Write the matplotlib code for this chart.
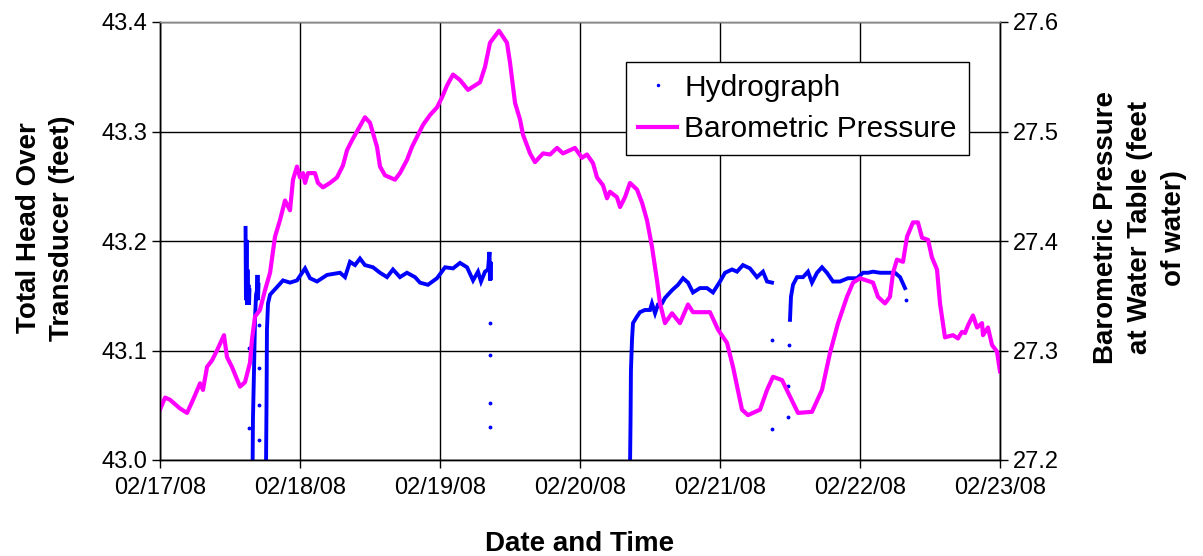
import numpy as np
import matplotlib
matplotlib.use('Agg')
import matplotlib.pyplot as plt
import matplotlib.dates as mdates
from matplotlib.lines import Line2D

plt.rcParams['font.family'] = ['Liberation Sans', 'DejaVu Sans']

# time axis: hours after 02/17/08 00:00
start = np.datetime64('2008-02-17T00:00')

# Barometric pressure (feet of water, right axis)
press_hours = [0, 0.86, 1.71, 3.43, 4.63, 5.66, 6.86, 7.37, 8.06, 8.91, 9.77, 10.97,
               11.49, 12.34, 13.71, 14.57, 15.43, 15.77, 16.29, 17.14, 18.0, 18.86,
               19.71, 20.57, 21.43, 22.29, 22.8, 23.49, 24.0, 24.51, 24.86, 25.37,
               26.57, 27.09, 27.94, 29.14, 30.34, 31.37, 32.06, 32.91, 33.77, 35.14,
               36.0, 37.2, 37.71, 38.57, 40.29, 41.14, 42.34, 43.2, 44.23, 45.09,
               46.29, 47.49, 48.34, 49.2, 50.23, 51.43, 52.8, 54.86, 55.71, 56.57,
               58.11, 59.49, 60.0, 60.86, 61.71, 62.23, 63.43, 64.29, 65.66, 66.86,
               68.06, 69.09, 71.14, 72.34, 73.2, 74.23, 74.91, 75.94, 76.63, 77.14,
               78.34, 78.86, 79.71, 80.57, 81.77, 82.63, 83.49, 84.34, 85.2, 85.71,
               86.57, 87.77, 89.14, 90.51, 91.37, 94.29, 95.66, 97.2, 98.23, 99.77,
               100.8, 102.86, 104.06, 105.09, 106.63, 108.0, 109.37, 111.77, 113.49,
               114.86, 116.23, 117.77, 118.8, 120.0, 122.23, 123.09, 124.29, 125.14,
               125.66, 126.34, 127.37, 128.06, 129.09, 129.94, 130.63, 131.66, 132.34,
               133.2, 133.71, 134.57, 135.94, 136.8, 137.49, 138.0, 138.51, 139.37,
               140.06, 140.91, 141.09, 141.94, 142.63, 143.49, 144.0]
press_vals = [27.246, 27.257, 27.255, 27.247, 27.243, 27.255, 27.270, 27.264, 27.285,
              27.291, 27.300, 27.314, 27.294, 27.285, 27.267, 27.271, 27.289, 27.310,
              27.331, 27.337, 27.355, 27.371, 27.404, 27.419, 27.437, 27.428, 27.456,
              27.468, 27.458, 27.462, 27.453, 27.462, 27.462, 27.453, 27.449, 27.453,
              27.458, 27.469, 27.483, 27.492, 27.500, 27.513, 27.508, 27.486, 27.468,
              27.460, 27.456, 27.462, 27.474, 27.486, 27.497, 27.506, 27.515, 27.522,
              27.531, 27.542, 27.552, 27.547, 27.538, 27.545, 27.559, 27.581, 27.592,
              27.581, 27.563, 27.526, 27.511, 27.497, 27.480, 27.472, 27.480, 27.479,
              27.485, 27.480, 27.485, 27.476, 27.479, 27.471, 27.458, 27.451, 27.439,
              27.445, 27.440, 27.431, 27.440, 27.453, 27.447, 27.435, 27.419, 27.395,
              27.364, 27.343, 27.325, 27.334, 27.325, 27.342, 27.335, 27.335, 27.319,
              27.307, 27.285, 27.246, 27.241, 27.246, 27.264, 27.276, 27.273, 27.258,
              27.243, 27.244, 27.264, 27.298, 27.325, 27.349, 27.362, 27.366, 27.362,
              27.349, 27.343, 27.349, 27.371, 27.383, 27.381, 27.404, 27.417, 27.417,
              27.403, 27.401, 27.385, 27.374, 27.343, 27.312, 27.314, 27.311, 27.317,
              27.316, 27.323, 27.332, 27.321, 27.325, 27.314, 27.321, 27.305, 27.299,
              27.281]

# Hydrograph (total head over transducer, feet, left axis) - continuous runs
hydro_seg1_hours = [14.66, 14.74, 14.83, 14.91, 15.0, 15.09, 15.17, 15.26, 15.34]
hydro_seg1_vals = [43.212, 43.146, 43.201, 43.142, 43.174, 43.146, 43.160, 43.142, 43.155]

hydro_seg2_hours = [15.86, 15.94, 16.11, 16.29, 16.46, 16.63, 16.71, 16.8, 16.89]
hydro_seg2_vals = [42.99, 43.037, 43.082, 43.128, 43.151, 43.155, 43.169, 43.146, 43.160]

hydro_seg3_hours = [18.17, 18.26, 18.34, 18.51, 18.86, 20.06, 21.09, 22.29, 23.49, 24.86,
                    25.71, 26.91, 28.63, 30.86, 31.71, 32.57, 33.43, 34.29, 35.14, 36.51,
                    37.71, 38.91, 39.94, 41.14, 42.34, 43.71, 44.57, 45.94, 47.49, 48.86,
                    50.23, 51.43, 52.63, 53.66, 54.51, 55.03, 55.71, 56.23, 56.49, 56.57,
                    56.66, 56.74]
hydro_seg3_vals = [42.99, 43.055, 43.119, 43.143, 43.151, 43.158, 43.164, 43.162, 43.164,
                   43.175, 43.166, 43.163, 43.169, 43.171, 43.167, 43.181, 43.178, 43.184,
                   43.178, 43.176, 43.171, 43.167, 43.174, 43.167, 43.171, 43.167, 43.162,
                   43.160, 43.166, 43.176, 43.175, 43.180, 43.176, 43.164, 43.172, 43.163,
                   43.172, 43.174, 43.190, 43.164, 43.181, 43.166]

hydro_seg4_hours = [80.57, 80.66, 80.74, 80.91, 81.09, 81.77, 82.29, 83.14, 84.0, 84.34,
                    84.86, 85.37, 86.06, 86.57, 87.77, 88.8, 89.66, 90.51, 91.37, 92.57,
                    93.77, 94.8, 96.0, 96.86, 98.06, 98.91, 99.94, 101.14, 102.34, 103.37,
                    104.06, 104.91]
hydro_seg4_vals = [42.99, 43.037, 43.082, 43.110, 43.125, 43.131, 43.135, 43.137, 43.137,
                   43.143, 43.134, 43.142, 43.143, 43.148, 43.155, 43.160, 43.166, 43.162,
                   43.153, 43.157, 43.157, 43.153, 43.163, 43.171, 43.174, 43.172, 43.178,
                   43.175, 43.167, 43.172, 43.163, 43.162]

hydro_seg5_hours = [108.0, 108.17, 108.51, 109.2, 110.23, 111.09, 111.77, 112.63, 113.49,
                    114.34, 115.37, 116.57, 117.94, 119.49, 120.51, 121.37, 122.23, 123.43,
                    124.63, 126.0, 126.86, 127.71]
hydro_seg5_vals = [43.128, 43.149, 43.160, 43.167, 43.167, 43.172, 43.162, 43.171, 43.176,
                   43.171, 43.163, 43.163, 43.166, 43.166, 43.171, 43.171, 43.172, 43.171,
                   43.171, 43.171, 43.167, 43.157]

# isolated hydrograph readings
hydro_dot_hours = [15.26, 15.26, 16.97, 16.97, 16.97, 16.97, 56.6, 56.6, 56.6, 56.6,
                   104.9, 104.9, 107.66, 107.74, 107.83, 127.9]
hydro_dot_vals = [43.102, 43.029, 43.123, 43.084, 43.050, 43.018, 43.125, 43.096, 43.052,
                  43.030, 43.110, 43.028, 43.039, 43.068, 43.105, 43.146]

tick_days = ['2008-02-17', '2008-02-18', '2008-02-19', '2008-02-20', '2008-02-21',
             '2008-02-22', '2008-02-23']


def to_time(hours):
    return start + (np.array(hours) * 60).round().astype('timedelta64[m]')


blue = '#0000FF'
magenta = '#FF00FF'

fig = plt.figure(figsize=(12.03, 5.56), dpi=100)
ax = fig.add_axes([160 / 1203, 1 - 460 / 556, 840 / 1203, 438 / 556])
ax2 = ax.twinx()

segments = [(hydro_seg1_hours, hydro_seg1_vals), (hydro_seg2_hours, hydro_seg2_vals),
            (hydro_seg3_hours, hydro_seg3_vals), (hydro_seg4_hours, hydro_seg4_vals),
            (hydro_seg5_hours, hydro_seg5_vals)]
for hrs, vals in segments:
    ax.plot(to_time(hrs), vals, color=blue, lw=2.8, solid_joinstyle='miter')
ax.plot(to_time(hydro_dot_hours), hydro_dot_vals, ls='none', marker='.', ms=3.5,
        color=blue)

ax2.plot(to_time(press_hours), press_vals, color=magenta, lw=3.0)

ax.set_ylim(43.0, 43.4)
ax2.set_ylim(27.2, 27.6)
ax.set_yticks([43.0, 43.1, 43.2, 43.3, 43.4])
ax2.set_yticks([27.2, 27.3, 27.4, 27.5, 27.6])
ax.yaxis.set_major_formatter(matplotlib.ticker.FormatStrFormatter('%.1f'))
ax2.yaxis.set_major_formatter(matplotlib.ticker.FormatStrFormatter('%.1f'))

ticks = [np.datetime64(d) for d in tick_days]
ax.set_xlim(ticks[0], ticks[-1])
ax.set_xticks(ticks)
ax.xaxis.set_major_formatter(mdates.DateFormatter('%m/%d/%y'))

ax.grid(True, color='black', lw=1.0)
ax.set_axisbelow(True)

for a in (ax, ax2):
    a.tick_params(labelsize=17, length=6, width=1, direction='out', pad=3)
    for s in a.spines.values():
        s.set_linewidth(1.0)
    a.spines['top'].set_color('#888888')
ax.tick_params(axis='x', pad=6)

ax.set_xlabel('Date and Time', fontsize=20, fontweight='bold')
ax.xaxis.set_label_coords(0.5, -0.163)
ax.set_ylabel('Total Head Over\nTransducer (feet)', fontsize=20, fontweight='bold',
              linespacing=1.35)
ax.yaxis.set_label_coords(-0.101, 0.53)
ax2.set_ylabel('Barometric Pressure\nat Water Table (feet\nof water)', fontsize=20,
               fontweight='bold', linespacing=1.4)
ax2.yaxis.set_label_coords(1.111, 0.53)

handles = [Line2D([], [], color=blue, marker='.', ms=3, ls='none'),
           Line2D([], [], color=magenta, lw=3.0)]
leg = ax2.legend(handles, ['Hydrograph', 'Barometric Pressure'], loc='upper left',
                 bbox_to_anchor=(0.555, 0.909), borderaxespad=0, fontsize=21.5,
                 frameon=True, fancybox=False, edgecolor='black', framealpha=1,
                 handlelength=1.3, handletextpad=0.25, borderpad=0.4,
                 labelspacing=0.45)
leg.get_frame().set_linewidth(1.0)

fig.savefig('out.png', dpi=100)
